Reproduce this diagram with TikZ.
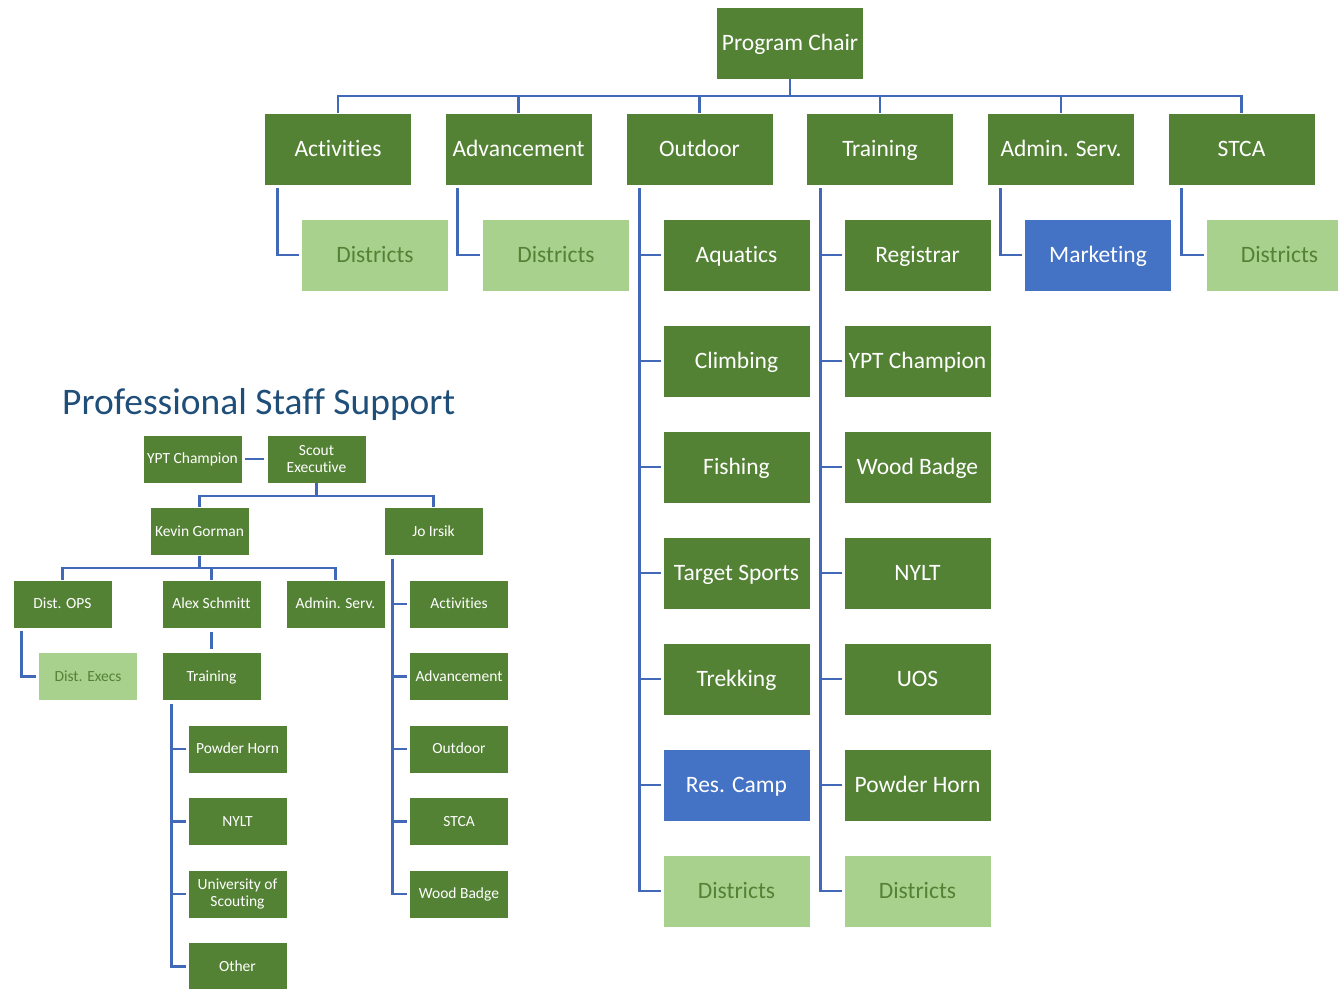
\documentclass[tikz,border=0pt]{standalone}
\usepackage{fontspec}
\setmainfont{Carlito}[Ligatures={NoCommon}]
\definecolor{boxgreen}{HTML}{548235}
\definecolor{lightgreen}{HTML}{A9D18E}
\definecolor{boxblue}{HTML}{4472C4}
\definecolor{linkblue}{HTML}{4169B8}
\definecolor{titleblue}{HTML}{1F4E79}
\begin{document}
\begin{tikzpicture}[x=1pt,y=-1pt]
	\tikzstyle{boxbase} = [rectangle, draw=white, line width=0.6pt, fill=boxgreen, text=white, inner sep=0pt, align=center]
	\tikzstyle{unit} = [boxbase, minimum width=147pt, minimum height=72pt, text height=17pt, text depth=2.5pt, font=\fontsize{23.5}{28}\selectfont]
	\tikzstyle{unit_light} = [unit, fill=lightgreen, text=boxgreen]
	\tikzstyle{unit_blue} = [unit, fill=boxblue]
	\tikzstyle{staff_two} = [boxbase, minimum width=99pt, minimum height=48pt, font=\fontsize{15.5}{17.5}\selectfont]
	\tikzstyle{staff} = [staff_two, text height=11.5pt, text depth=2pt]
	\tikzstyle{staff_light} = [staff, fill=lightgreen, text=boxgreen]
	\tikzstyle{link} = [draw=linkblue, line width=2.6pt]

	\useasboundingbox (0,0) rectangle (1338,988);

	% Program chair and committees
	\node (pc) [unit] at (790,43) {Program Chair};
	\node (act) [unit] at (338,149) {Activities};
	\node (adv) [unit] at (518.5,149) {Advancement};
	\node (out) [unit] at (699.5,149) {Outdoor};
	\node (trn) [unit] at (880,149) {Training};
	\node (adm) [unit] at (1061,149) {Admin. Serv.};
	\node (stca) [unit] at (1241.5,149) {STCA};
	\coordinate (bus) at (790,96);

	% Second level
	\node (act_d) [unit_light] at (375,255) {Districts};
	\node (adv_d) [unit_light] at (556,255) {Districts};
	\node (adm_m) [unit_blue] at (1098,255) {Marketing};
	\node (stca_d) [unit_light] at (1279.5,255) {Districts};

	% Outdoor
	\node (out1) [unit] at (736.5,255) {Aquatics};
	\node (out2) [unit] at (736.5,361) {Climbing};
	\node (out3) [unit] at (736.5,467) {Fishing};
	\node (out4) [unit] at (736.5,573) {Target Sports};
	\node (out5) [unit] at (736.5,679) {Trekking};
	\node (out6) [unit_blue] at (736.5,785) {Res. Camp};
	\node (out7) [unit_light] at (736.5,891) {Districts};

	% Training
	\node (trn1) [unit] at (917.5,255) {Registrar};
	\node (trn2) [unit] at (917.5,361) {YPT Champion};
	\node (trn3) [unit] at (917.5,467) {Wood Badge};
	\node (trn4) [unit] at (917.5,573) {NYLT};
	\node (trn5) [unit] at (917.5,679) {UOS};
	\node (trn6) [unit] at (917.5,785) {Powder Horn};
	\node (trn7) [unit_light] at (917.5,891) {Districts};

	\foreach \n in {act,adv,out,trn,adm,stca}
	\draw[link] (pc.south) -- (pc.south |- bus) -| (\n.north);
	\draw[link, shorten >=2pt] ([xshift=13pt,yshift=-3pt]act.south west) |- (act_d.west);
	\draw[link, shorten >=2pt] ([xshift=13pt,yshift=-3pt]adv.south west) |- (adv_d.west);
	\draw[link, shorten >=2pt] ([xshift=13pt,yshift=-3pt]adm.south west) |- (adm_m.west);
	\draw[link, shorten >=2pt] ([xshift=14pt,yshift=-3pt]stca.south west) |- (stca_d.west);
	\foreach \i in {1,...,7}
	\draw[link, shorten >=2pt] ([xshift=14pt,yshift=-3pt]out.south west) |- (out\i.west);
	\foreach \i in {1,...,7}
	\draw[link, shorten >=2pt] ([xshift=14pt,yshift=-3pt]trn.south west) |- (trn\i.west);

	% Professional staff support
	\node (title) [anchor=west, text=titleblue, font=\fontsize{37.5}{40}\selectfont, inner sep=0pt] at (62,404) {Professional Staff Support};
	\node (ypt) [staff] at (192.5,459) {YPT Champion};
	\node (se) [staff_two] at (316.5,459) {Scout\\Executive};
	\node (kg) [staff] at (199.5,531.5) {Kevin Gorman};
	\node (ji) [staff] at (433.5,531.5) {Jo Irsik};
	\coordinate (sbus) at (316,496);
	\coordinate (kbus) at (199,568);

	\node (dops) [staff] at (62.5,604) {Dist. OPS};
	\node (as) [staff] at (211.5,604) {Alex Schmitt};
	\node (kadm) [staff] at (335.5,604) {Admin. Serv.};
	\node (dex) [staff_light] at (88,676.5) {Dist. Execs};
	\node (st) [staff] at (211.5,676.5) {Training};

	% Training children
	\node (st1) [staff] at (237.5,749) {Powder Horn};
	\node (st2) [staff] at (237.5,821.5) {NYLT};
	\node (st3) [staff_two] at (237.5,894) {University of\\Scouting};
	\node (st4) [staff] at (237.5,966.5) {Other};

	% Jo Irsik children
	\node (ji1) [staff] at (459,604) {Activities};
	\node (ji2) [staff] at (459,676.5) {Advancement};
	\node (ji3) [staff] at (459,749) {Outdoor};
	\node (ji4) [staff] at (459,821.5) {STCA};
	\node (ji5) [staff] at (459,894) {Wood Badge};

	\draw[link, shorten <=3pt, shorten >=3pt] (ypt.east) -- (se.west);
	\foreach \n in {kg,ji}
	\draw[link] (se.south) -- (se.south |- sbus) -| (\n.north);
	\foreach \n in {dops,as,kadm}
	\draw[link] (kg.south) -- (kg.south |- kbus) -| (\n.north);
	\draw[link, shorten <=4pt, shorten >=3pt] (as.south) -- (st.north);
	\draw[link, shorten >=2pt] ([xshift=9pt,yshift=-3pt]dops.south west) |- (dex.west);
	\foreach \i in {1,...,4}
	\draw[link, shorten >=2pt] ([xshift=10pt,yshift=-3pt]st.south west) |- (st\i.west);
	\foreach \i in {1,...,5}
	\draw[link, shorten >=2pt] ([xshift=9pt,yshift=-3pt]ji.south west) |- (ji\i.west);
\end{tikzpicture}
\end{document}
